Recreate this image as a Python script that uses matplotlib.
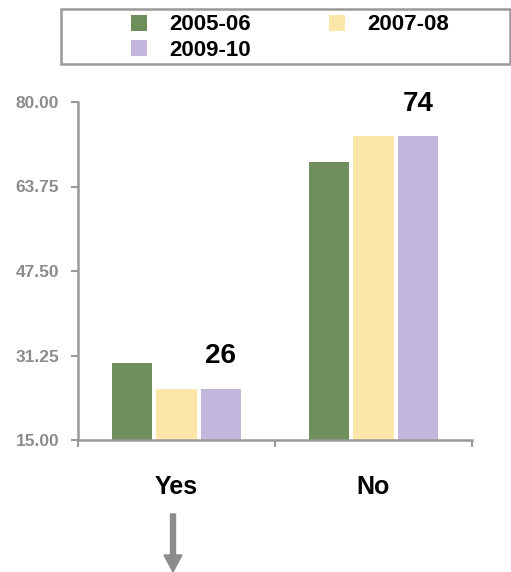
import matplotlib
matplotlib.use("Agg")
import matplotlib.pyplot as plt
from matplotlib.patches import Rectangle, FancyArrow
import numpy as np

plt.rcParams['font.family'] = ['Liberation Sans', 'DejaVu Sans']
plt.rcParams['font.weight'] = 'bold'

categories = ["Yes", "No"]
series_names = ["2005-06", "2007-08", "2009-10"]
values = {
    "2005-06": [29.9, 68.4],
    "2007-08": [24.9, 73.4],
    "2009-10": [24.9, 73.4],
}
colors = {"2005-06": "#6E8F5C", "2007-08": "#FDE6AA", "2009-10": "#C2B6DC"}
value_labels = ["26", "74"]
yticks = [15.00, 31.25, 47.50, 63.75, 80.00]

W, H = 511, 572
fig = plt.figure(figsize=(W / 100, H / 100), dpi=100)
ax = fig.add_axes([78 / W, (H - 440) / H, 394 / W, 338 / H])

grey = "#999999"
centers = np.arange(len(categories)) + 0.5
offsets = [-0.225, 0.0, 0.225]
bw = 0.205
handles = []
for name, off in zip(series_names, offsets):
    b = ax.bar(centers + off, np.array(values[name]) - 15, bottom=15, width=bw,
               color=colors[name], label=name, zorder=2)
    handles.append(b)

last = series_names[-1]
for c, v, lab in zip(centers, values[last], value_labels):
    ax.annotate(lab, (c + offsets[-1], v), xytext=(0, 14), textcoords="offset points",
                ha="center", va="bottom", fontsize=20, fontweight="bold", color="black")

ax.set_xlim(0, 2)
ax.set_ylim(15, 80)
ax.set_yticks(yticks)
ax.set_yticklabels([f"{t:.2f}" for t in yticks])
ax.set_xticks([0, 1, 2])
ax.set_xticklabels([])
ax.set_xticks(centers, minor=True)
ax.set_xticklabels(categories, minor=True)
ax.tick_params(axis="x", which="minor", length=0, pad=25, labelsize=18, labelcolor="black")
ax.tick_params(axis="x", which="major", length=5, width=1.5, color=grey)
ax.tick_params(axis="y", length=5, width=1.5, color=grey, pad=8.5, labelsize=12.5, labelcolor="#8c8c8c")
for lab in ax.get_xticklabels(minor=True):
    lab.set_fontweight("bold")
for lab in ax.get_yticklabels():
    lab.set_fontweight("bold")
for s in ["top", "right"]:
    ax.spines[s].set_visible(False)
for s in ["left", "bottom"]:
    ax.spines[s].set_color(grey)
    ax.spines[s].set_linewidth(1.8)

# legend frame
fig.patches.append(Rectangle((61 / W, (H - 64) / H), 449 / W, 55 / H, transform=fig.transFigure,
                             facecolor="white", edgecolor=grey, linewidth=1.8))
order = [0, 2, 1]  # row-major: 2005-06, 2007-08 / 2009-10
leg = fig.legend(handles=[handles[i] for i in order], labels=[series_names[i] for i in order],
                 ncol=2, loc="upper left", bbox_to_anchor=(127 / W, (H - 10) / H), frameon=False,
                 prop={"size": 16, "weight": "bold"}, handlelength=0.72, handleheight=0.72,
                 handletextpad=1.0, columnspacing=3.5, labelspacing=0.2, borderpad=0.2,
                 borderaxespad=0)

# arrow below "Yes"
fig.patches.append(FancyArrow(173 / W, (H - 514) / H, 0, -(58) / H, width=5 / W,
                              head_width=18 / W, head_length=17 / H, length_includes_head=True,
                              transform=fig.transFigure, color="#8c8c8c"))

fig.savefig("out.png", dpi=100)
